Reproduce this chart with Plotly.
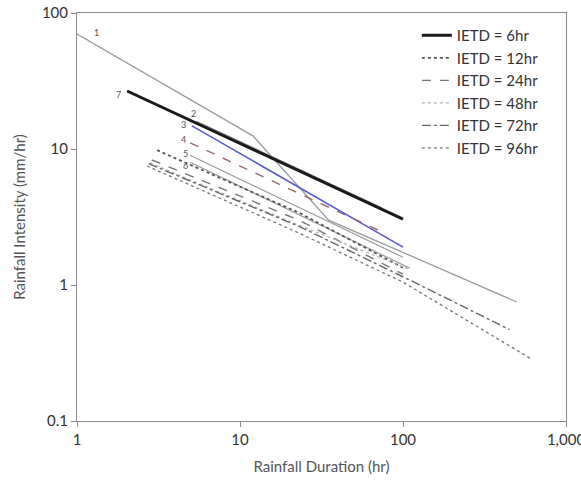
import math
import plotly.graph_objects as go

# ---- data (duration hr, intensity mm/hr) ----
c1_x = [1.0, 12.0, 35.0, 500.0]
c1_y = [70.0, 12.5, 3.0, 0.75]
c2_x = [5.4, 74.0]
c2_y = [16.0, 3.7]
c3_x = [5.07, 100.0]
c3_y = [14.8, 1.9]
c4_x = [4.94, 72.0]
c4_y = [11.1, 2.5]
c5_x = [4.94, 100.0]
c5_y = [9.0, 1.6]
c6_x = [4.94, 110.0]
c6_y = [8.0, 1.33]

ietd6_x = [2.03, 100.0]
ietd6_y = [26.7, 3.05]
ietd12_x = [3.1, 23.0, 100.0]
ietd12_y = [9.8, 3.4, 1.34]
ietd24_x = [2.88, 23.0, 100.0]
ietd24_y = [8.3, 3.0, 1.2]
ietd48_x = [2.8, 23.0, 110.0]
ietd48_y = [7.9, 2.75, 1.3]
ietd72_x = [2.75, 23.0, 100.0, 450.0]
ietd72_y = [7.8, 2.7, 1.15, 0.47]
ietd96_x = [2.69, 23.0, 100.0, 600.0]
ietd96_y = [7.5, 2.41, 1.05, 0.29]

legend_names = ["IETD = 6hr", "IETD = 12hr", "IETD = 24hr",
                "IETD = 48hr", "IETD = 72hr", "IETD = 96hr"]
curve_labels = ["1", "2", "3", "4", "5", "6", "7"]

x_tickvals = [1, 10, 100, 1000]
x_ticktext = ["1", "10", "100", "1,000"]
y_tickvals = [0.1, 1, 10, 100]
y_ticktext = ["0.1", "1", "10", "100"]

FONT = "Lato"
fig = go.Figure()

def add(x, y, color, width, dash="solid", name=None, show=False):
    fig.add_trace(go.Scatter(x=x, y=y, mode="lines", name=name,
                             showlegend=show,
                             line=dict(color=color, width=width, dash=dash)))

# other curves (not in legend)
add(c1_x, c1_y, "#9a9a9a", 1.3)
add(c2_x, c2_y, "#8c8c8c", 1.3)
add(c3_x, c3_y, "#5a5ad0", 1.6)
add(c4_x, c4_y, "#9a6a6a", 1.4, "dash")
add(c5_x, c5_y, "#9a9a9a", 1.2)
add(c6_x, c6_y, "#a0a0a0", 1.2)

# IETD series
add(ietd6_x, ietd6_y, "#1a1a1a", 3, "solid", legend_names[0], True)
add(ietd12_x, ietd12_y, "#555555", 1.8, "dot", legend_names[1], True)
add(ietd24_x, ietd24_y, "#777777", 1.4, "dash", legend_names[2], True)
add(ietd48_x, ietd48_y, "#b0b0b0", 1.2, "dot", legend_names[3], True)
add(ietd72_x, ietd72_y, "#666666", 1.4, "dashdot", legend_names[4], True)
add(ietd96_x, ietd96_y, "#777777", 1.3, "dot", legend_names[5], True)

# curve number labels, anchored at each curve's first point (log axes -> log10)
starts = [(c1_x[0], c1_y[0], 19, 2), (c2_x[0], c2_y[0], -3, 8),
          (c3_x[0], c3_y[0], -8, 1), (c4_x[0], c4_y[0], -7, 3),
          (c5_x[0], c5_y[0], -5, 2), (c6_x[0], c6_y[0], -5, -3),
          (ietd6_x[0], ietd6_y[0], -9, -4)]
for lab, (sx, sy, dx, dy) in zip(curve_labels, starts):
    fig.add_annotation(x=math.log10(sx), y=math.log10(sy), text=lab,
                       showarrow=False, xshift=dx, yshift=dy, borderpad=0,
                       font=dict(size=9, color="#555555", family=FONT))

axis_common = dict(type="log", showgrid=False, zeroline=False,
                   showline=True, linecolor="#8c8c8c", linewidth=1,
                   mirror=True, ticks="outside", ticklen=5,
                   tickcolor="#8c8c8c", ticklabeloverflow="allow",
                   automargin=False,
                   tickfont=dict(size=15, color="#333333", family=FONT))

fig.update_xaxes(range=[0, 3], tickvals=x_tickvals, ticktext=x_ticktext,
                 title=dict(text="Rainfall Duration (hr)",
                            font=dict(size=15, color="#555555", family=FONT),
                            standoff=14),
                 **axis_common)
fig.update_yaxes(range=[-1, 2], tickvals=y_tickvals, ticktext=y_ticktext,
                 title=dict(text="Rainfall Intensity (mm/hr)",
                            font=dict(size=15, color="#555555", family=FONT),
                            standoff=12),
                 **axis_common)

fig.update_layout(
    width=581, height=486,
    margin=dict(l=77, r=15, t=13, b=65),
    paper_bgcolor="white", plot_bgcolor="white",
    legend=dict(x=0.695, y=0.985, xanchor="left", yanchor="top",
                bgcolor="rgba(0,0,0,0)",
                font=dict(size=15, color="#333333", family=FONT),
                tracegroupgap=0),
)

fig.write_html("out.html")
